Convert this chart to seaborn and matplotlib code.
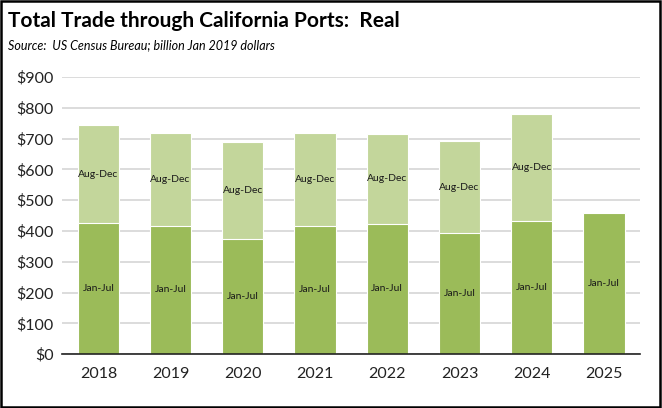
import matplotlib
matplotlib.use("Agg")
import matplotlib.pyplot as plt
import seaborn as sns
import pandas as pd
import numpy as np
from matplotlib.patches import Rectangle
from matplotlib.ticker import FuncFormatter

years = ["2018", "2019", "2020", "2021", "2022", "2023", "2024", "2025"]
jan_jul = [426, 417, 375, 417, 424, 395, 433, 459]
aug_dec = [318, 300, 314, 302, 290, 296, 346, np.nan]

sns.set_theme(style="white")
plt.rcParams['font.family'] = ['Lato', 'DejaVu Sans']

df = pd.DataFrame({"year": years, "jan_jul": jan_jul, "aug_dec": aug_dec})
df["total"] = df["jan_jul"] + df["aug_dec"].fillna(0)

fig = plt.figure(figsize=(6.62, 4.08), dpi=100)
ax = fig.add_axes([0.094, 0.132, 0.873, 0.679])

dark = "#9BBB59"
light = "#C3D69B"

sns.barplot(data=df, x="year", y="total", color=light, width=0.57, ax=ax,
            saturation=1, edgecolor="white", linewidth=0.8, zorder=3)
sns.barplot(data=df, x="year", y="jan_jul", color=dark, width=0.57, ax=ax,
            saturation=1, edgecolor="white", linewidth=0.8, zorder=4)

for i, row in df.iterrows():
    ax.text(i, row["jan_jul"] / 2, "Jan-Jul", ha="center", va="center",
            fontsize=7.5, color="#1a1a1a", zorder=6)
    if not np.isnan(row["aug_dec"]):
        ax.text(i, row["jan_jul"] + row["aug_dec"] / 2, "Aug-Dec", ha="center",
                va="center", fontsize=7.5, color="#1a1a1a", zorder=6)

ax.set_ylim(0, 900)
ax.set_xlim(-0.5, 7.5)
ax.set_yticks(range(0, 901, 100))
ax.yaxis.set_major_formatter(FuncFormatter(lambda v, p: f"${int(v)}"))
ax.grid(axis="y", color="#D9D9D9", linewidth=1.3, zorder=0)
ax.set_axisbelow(True)
for s in ["top", "right", "left"]:
    ax.spines[s].set_visible(False)
ax.spines["bottom"].set_color("#222222")
ax.spines["bottom"].set_linewidth(1.2)
ax.spines["bottom"].set_zorder(7)
ax.tick_params(axis="both", length=0, labelsize=11.5, colors="#222222")
ax.tick_params(axis="x", pad=9)
ax.tick_params(axis="y", pad=6)
ax.set_xlabel("")
ax.set_ylabel("")

fig.text(0.012, 0.948, "Total Trade through California Ports:  Real", fontsize=15,
         fontweight="bold", ha="left", va="center", color="black")
fig.text(0.012, 0.89, "Source:  US Census Bureau; billion Jan 2019 dollars", fontsize=9,
         fontstyle="italic", ha="left", va="center", color="black")

fig.add_artist(Rectangle((0.002, 0.003), 0.995, 0.994, transform=fig.transFigure,
                         fill=False, edgecolor="black", linewidth=1.8))

fig.savefig("out.png", dpi=100)
